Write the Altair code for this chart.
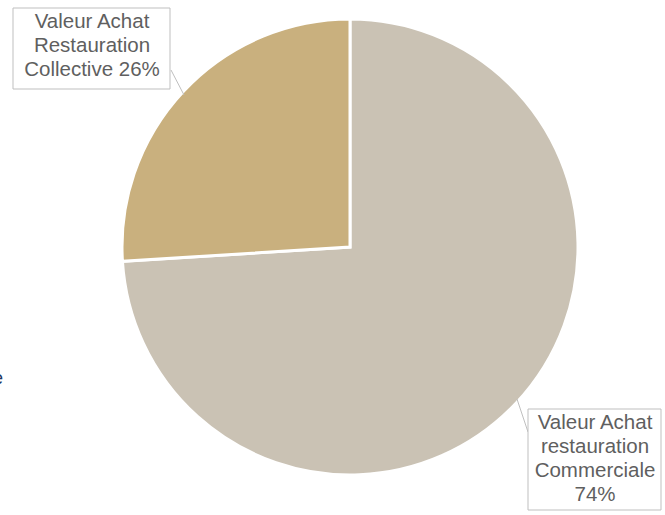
import altair as alt
import pandas as pd

categories = ["Valeur Achat restauration Commerciale", "Valeur Achat Restauration Collective"]
shares = [74, 26]
colors = ["#CAC2B4", "#C9B07E"]
label_lines = [
    ["Valeur Achat", "restauration", "Commerciale", "74%"],
    ["Valeur Achat", "Restauration", "Collective 26%"],
]

W, H = 665, 515
CX, CY, R = 350, 247, 228

pie_df = pd.DataFrame({"cat": categories, "share": shares, "ord": [0, 1]})

pie = alt.Chart(pie_df).mark_arc(outerRadius=R, stroke="white", strokeWidth=3).encode(
    theta=alt.Theta("share:Q", stack=True),
    order=alt.Order("ord:Q"),
    color=alt.Color("cat:N", scale=alt.Scale(domain=categories, range=colors), legend=None),
    x=alt.value(CX),
    y=alt.value(CY),
)

# label boxes
box_df = pd.DataFrame({
    "x": [528, 13], "x2": [661, 170], "y": [409, 8], "y2": [510, 89]
})
boxes = alt.Chart(box_df).mark_rect(fill="white", stroke="#BFBFBF", strokeWidth=1).encode(
    x=alt.X("x:Q", scale=None), x2="x2:Q", y=alt.Y("y:Q", scale=None), y2="y2:Q"
)

lead_df = pd.DataFrame({
    "x": [517, 171], "x2": [528, 184], "y": [399, 70], "y2": [432, 95]
})
leads = alt.Chart(lead_df).mark_rule(color="#BFBFBF", strokeWidth=1).encode(
    x=alt.X("x:Q", scale=None), x2="x2:Q", y=alt.Y("y:Q", scale=None), y2="y2:Q"
)

text_df = pd.DataFrame({
    "txt": ["\n".join(label_lines[0]), "\n".join(label_lines[1])],
    "x": [595, 92], "y": [413, 12],
})
texts = alt.Chart(text_df).mark_text(
    font="Liberation Sans", fontSize=20.5, color="#5F5F5F", align="center",
    baseline="top", lineBreak="\n", lineHeight=24
).encode(
    x=alt.X("x:Q", scale=None), y=alt.Y("y:Q", scale=None), text="txt:N"
)

frag_df = pd.DataFrame({"txt": ["e"], "x": [-7], "y": [379]})
frag = alt.Chart(frag_df).mark_text(
    font="Liberation Sans", fontSize=18, color="#1F3864", align="left", baseline="middle"
).encode(x=alt.X("x:Q", scale=None), y=alt.Y("y:Q", scale=None), text="txt:N")

chart = alt.layer(pie, leads, boxes, texts, frag).properties(
    width=W, height=H, padding=0, autosize="none", background="white"
).configure_view(stroke=None)

chart.save("out.html", embed_options={"renderer": "svg", "actions": False})
